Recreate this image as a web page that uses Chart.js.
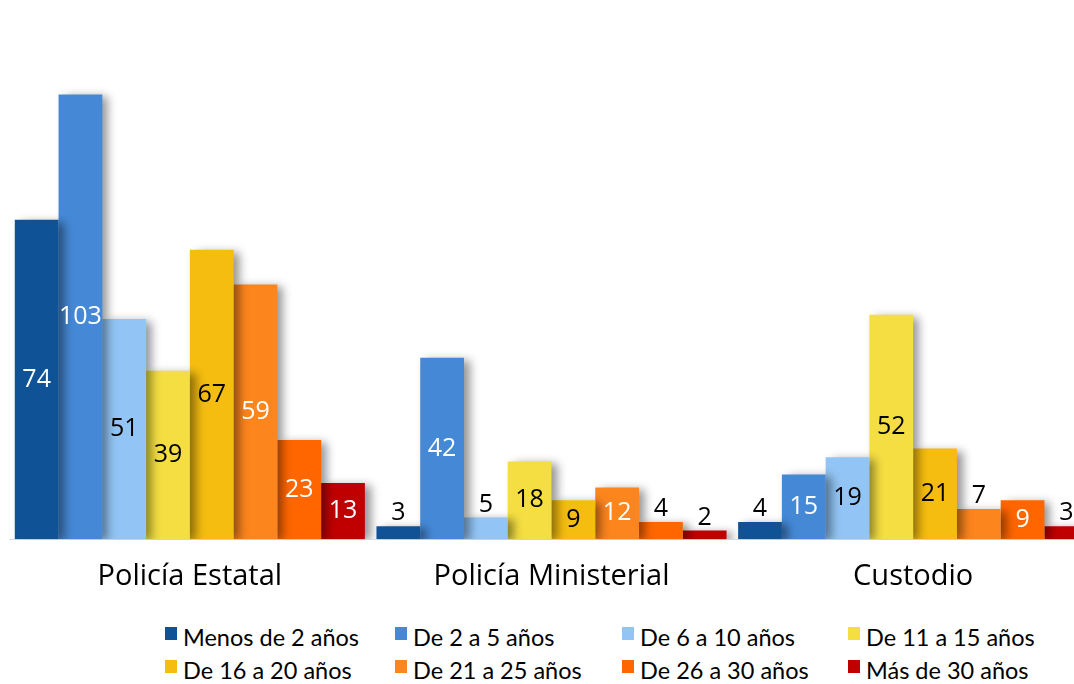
<!DOCTYPE html>
<html>
<head>
<meta charset="utf-8">
<script src="https://cdn.jsdelivr.net/npm/chart.js@4.4.1/dist/chart.umd.min.js"></script>
<style>
  html, body { margin: 0; padding: 0; background: #fff; overflow: hidden; }
  #wrap { position: relative; width: 1074px; height: 684px; overflow: hidden; }
  #box { position: absolute; left: 0; top: 0; width: 1094px; height: 606px; }
  #legend { position: absolute; left: 0; top: 0; font-family: Lato, sans-serif; font-size: 23.5px; color: #000; }
  .item { position: absolute; white-space: nowrap; line-height: 26px; }
  .item span.sw { position: absolute; left: 0; top: 3px; width: 12px; height: 13px; }
  .item span.tx { position: absolute; left: 18px; top: 0; }
</style>
</head>
<body>
<div id="wrap">
  <div id="box"><canvas id="chart"></canvas></div>
  <div id="legend"></div>
</div>
<script>
  const categories = ['Policía Estatal', 'Policía Ministerial', 'Custodio'];
  const seriesNames = ['Menos de 2 años', 'De 2 a 5 años', 'De 6 a 10 años', 'De 11 a 15 años',
                       'De 16 a 20 años', 'De 21 a 25 años', 'De 26 a 30 años', 'Más de 30 años'];
  const menos2 = [74, 3, 4];
  const de2a5 = [103, 42, 15];
  const de6a10 = [51, 5, 19];
  const de11a15 = [39, 18, 52];
  const de16a20 = [67, 9, 21];
  const de21a25 = [59, 12, 7];
  const de26a30 = [23, 4, 9];
  const mas30 = [13, 2, 3];
  const seriesValues = [menos2, de2a5, de6a10, de11a15, de16a20, de21a25, de26a30, mas30];
  const colors = ['#0f5396', '#4589d6', '#92c5f5', '#f4de42', '#f5bd10', '#fd851e', '#ff6600', '#c00000'];
  const labelColors = ['#fff', '#fff', '#000', '#000', '#000', '#fff', '#fff', '#fff'];

  // drop shadow behind every bar, drawn dataset by dataset
  const shadowPlugin = {
    id: 'barShadow',
    beforeDatasetDraw(chart) {
      const ctx = chart.ctx;
      ctx.save();
      ctx.shadowColor = 'rgba(0,0,0,0.42)';
      ctx.shadowBlur = 9;
      ctx.shadowOffsetX = 6;
      ctx.shadowOffsetY = 2;
    },
    afterDatasetDraw(chart) {
      chart.ctx.restore();
    }
  };

  // value labels: centred in the bar, or above it when the bar is short
  const valuePlugin = {
    id: 'values',
    afterDatasetsDraw(chart) {
      const ctx = chart.ctx;
      ctx.save();
      ctx.font = '25px "Open Sans", sans-serif';
      ctx.textAlign = 'center';
      chart.data.datasets.forEach((ds, i) => {
        chart.getDatasetMeta(i).data.forEach((bar, j) => {
          const h = bar.base - bar.y;
          if (h < 35) {
            ctx.fillStyle = '#000';
            ctx.textBaseline = 'alphabetic';
            ctx.fillText(ds.data[j], bar.x, bar.y - 6);
          } else {
            ctx.fillStyle = labelColors[i];
            ctx.textBaseline = 'middle';
            ctx.fillText(ds.data[j], bar.x, (bar.y + bar.base) / 2);
          }
        });
      });
      ctx.restore();
    }
  };

  const chart = new Chart(document.getElementById('chart'), {
    type: 'bar',
    data: {
      labels: categories,
      datasets: seriesNames.map((name, i) => ({
        label: name,
        data: seriesValues[i],
        backgroundColor: colors[i],
        categoryPercentage: 0.968,
        barPercentage: 1
      }))
    },
    options: {
      responsive: true,
      maintainAspectRatio: false,
      animation: false,
      layout: { padding: { left: 9, top: 21, right: 0, bottom: 0 } },
      plugins: { legend: { display: false }, tooltip: { enabled: false } },
      scales: {
        x: {
          grid: { display: false },
          border: { display: true, color: '#d9e1ea', width: 1 },
          ticks: { color: '#000', padding: 12, font: { family: '"Open Sans", sans-serif', size: 29 } }
        },
        y: { display: false, min: 0, max: 120 }
      }
    },
    plugins: [shadowPlugin, valuePlugin]
  });

  // legend laid out as a 4 x 2 grid like the original
  const legend = document.getElementById('legend');
  const colX = [165, 395, 622, 848];
  const rowY = [624, 657];
  seriesNames.forEach((name, i) => {
    const el = document.createElement('div');
    el.className = 'item';
    el.style.left = colX[i % 4] + 'px';
    el.style.top = rowY[Math.floor(i / 4)] + 'px';
    el.innerHTML = '<span class="sw" style="background:' + colors[i] + '"></span><span class="tx">' + name + '</span>';
    legend.appendChild(el);
  });
</script>
</body>
</html>
